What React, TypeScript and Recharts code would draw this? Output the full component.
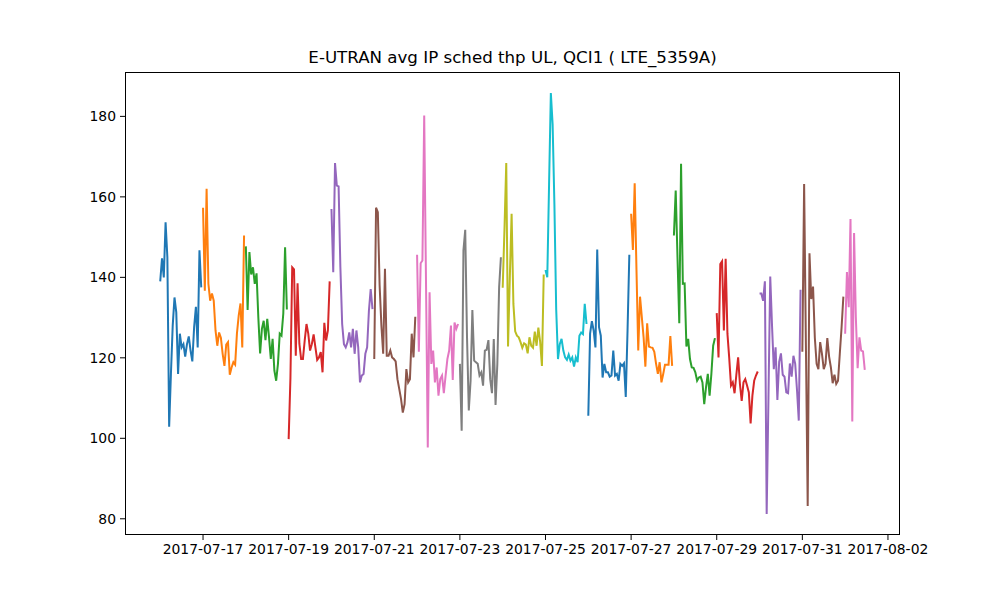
import React from "react";
import { LineChart, Line, XAxis, YAxis } from "recharts";

// hourly values, one array per calendar day (first hour = 00:00)
const d0716 = [139, 144.7, 140, 153.7, 145, 102.9, 116, 128, 135, 131.3, 116, 126, 122.6, 123.4, 120.3, 123.4, 125.3, 121.8, 119.1, 127.6, 132.7, 122.6, 146.7, 137.5];
const d0717 = [157.3, 136.7, 162, 138.4, 134.2, 136, 134.2, 126.8, 123, 126.3, 125, 121, 118, 123.3, 123.9, 115.8, 117.6, 118.9, 118.3, 126, 130.5, 133.5, 122.6, 150.4];
const d0718 = [147.7, 131.9, 146.3, 140.7, 142.5, 138.4, 141, 130, 121.1, 127.2, 129.2, 124.4, 129.7, 125.1, 119.7, 124.7, 116.8, 114.3, 118.5, 126, 125.5, 131, 147.5, 132];
const d0719 = [99.8, 115, 142.5, 142, 120.5, 138.5, 123.5, 119.7, 119.7, 124.3, 128.4, 126, 121.8, 123.4, 125.8, 122.6, 119.5, 120.1, 121.4, 116.4, 128.7, 124.3, 126.8, 139];
const d0720 = [157, 141.3, 168.4, 162.8, 162.6, 142.5, 128.4, 123.4, 122.6, 123.9, 126.3, 122.6, 127.2, 121, 126.8, 122.6, 113.9, 115.6, 116, 121, 122.6, 131.7, 137.1, 132.1];
const d0721 = [119.7, 157.3, 156.2, 138, 128, 121, 142.1, 120.5, 120.5, 121.8, 120.1, 119.7, 119.1, 114.7, 112.3, 109.8, 106.4, 108.5, 117.2, 113.9, 114.7, 126, 120.1, 130.2];
const d0722 = [145.6, 121.5, 143.5, 144.2, 180.2, 139, 97.7, 136.3, 118.5, 121.8, 113.9, 117.6, 110.6, 114.7, 115.6, 111.2, 115.6, 119.7, 121.8, 128, 114.5, 128.8, 127.2, 128.4];
const d0723 = [118.5, 101.9, 146.7, 151.8, 125.1, 106.9, 114.3, 131.9, 119.3, 118.9, 118.5, 115.6, 116.4, 113.1, 121.8, 122, 124.4, 114.7, 111.2, 124.7, 108.3, 118.5, 137.5, 145];
const d0724 = [137.4, 152, 168.4, 122.8, 140, 155.8, 133.4, 126.6, 125.5, 125.1, 123.9, 122.5, 123.6, 123.3, 121.1, 125.1, 123, 122.5, 126.5, 123, 127.5, 124, 118, 140.7];
const d0725 = [141.8, 140, 163, 185.8, 178, 158, 132, 119.7, 123.4, 124.7, 121.8, 120.1, 119.5, 120.8, 119.3, 120.1, 117.8, 120.1, 118.9, 125.5, 126.3, 125.9, 133.4, 128.4];
const d0726 = [105.6, 126, 129.1, 126.8, 122.6, 146.9, 127.6, 125.5, 115.1, 118.5, 116.4, 116.4, 115.3, 115.6, 121.8, 115.6, 116, 114.3, 118.5, 118, 118.6, 110.3, 126.8, 145.6];
const d0727 = [155.8, 146.8, 163.4, 142, 121.8, 135.2, 130.1, 125.1, 117.8, 128.6, 122.8, 122.6, 122.5, 121.5, 118.5, 116, 118.9, 113.9, 116, 118.3, 118.3, 118.3, 125.4, 118];
const d0728 = [150.4, 161.6, 145, 128.6, 168.2, 138.4, 138.5, 122.8, 124.7, 119.7, 117.6, 117.5, 116.4, 114.3, 115.1, 115.3, 113.9, 108.5, 112.7, 116, 110.6, 116, 123, 124.9];
const d0729 = [131.1, 120.1, 143.3, 144, 126.8, 144.6, 126, 120, 113.1, 113.9, 111.2, 115.8, 120.1, 113.5, 109.3, 113.9, 114.7, 113.1, 111.4, 103.7, 110.6, 114.3, 115.6, 116.6];
const d0730 = [136, 136, 134.2, 139, 81.2, 110, 140.2, 128, 117.2, 122.6, 109.5, 119, 121.1, 115.8, 115.3, 111.4, 111.2, 118.6, 115.3, 120.5, 118.5, 112, 104.4, 136.9];
const d0731 = [121.5, 163.2, 123, 83.2, 146, 134.6, 137.7, 125, 118.5, 117.2, 123.9, 121, 117.2, 118.5, 124.9, 120.3, 117.6, 113.7, 115.8, 113.5, 114.3, 121, 127.6, 135.2];
const d0801 = [126, 141.3, 132.6, 154.5, 104.2, 151, 130, 117.4, 125.1, 121.8, 121.6, 117];

const dayValues = [d0716, d0717, d0718, d0719, d0720, d0721, d0722, d0723, d0724, d0725, d0726, d0727, d0728, d0729, d0730, d0731, d0801];

// x is days since 2017-07-16 00:00
const xTicks = [1, 3, 5, 7, 9, 11, 13, 15, 17];
const xTickLabels = ["2017-07-17", "2017-07-19", "2017-07-21", "2017-07-23", "2017-07-25", "2017-07-27", "2017-07-29", "2017-07-31", "2017-08-02"];
const yTicks = [80, 100, 120, 140, 160, 180];

const colors = ["#1f77b4", "#ff7f0e", "#2ca02c", "#d62728", "#9467bd", "#8c564b", "#e377c2", "#7f7f7f", "#bcbd22", "#17becf"];

const segments = dayValues.map((vals, day) =>
  vals.map((y, h) => ({ x: day + h / 24, y }))
);

const lastX = 16 + (d0801.length - 1) / 24;
const xPad = lastX * 0.05;
const xDomain = [-xPad, lastX + xPad];
const yDomain = [75.97, 191.03];

const font = "DejaVu Sans, sans-serif";
const tickStyle = { fontFamily: font, fontSize: 13.9, fill: "#000" };

const App = () => {
  return (
    <div style={{ position: "absolute", left: 0, top: 0, width: 1000, height: 600, background: "#fff" }}>
      <div
        style={{
          position: "absolute",
          left: 125,
          width: 775,
          top: 50,
          textAlign: "center",
          fontFamily: font,
          fontSize: 16.67,
          lineHeight: 1,
          color: "#000",
        }}
      >
        E-UTRAN avg IP sched thp UL, QCI1 ( LTE_5359A)
      </div>
      <LineChart width={1000} height={600} margin={{ top: 72, right: 100, bottom: 35, left: 75 }}>
        <XAxis
          type="number"
          dataKey="x"
          domain={xDomain}
          allowDataOverflow
          ticks={xTicks}
          tickFormatter={(v) => xTickLabels[xTicks.indexOf(v)] ?? ""}
          height={30}
          tickSize={5}
          tickMargin={4}
          axisLine={false}
          tickLine={{ stroke: "#000" }}
          tick={tickStyle}
          interval={0}
        />
        <YAxis
          type="number"
          domain={yDomain}
          allowDataOverflow
          ticks={yTicks}
          width={50}
          tickSize={5}
          tickMargin={4}
          axisLine={false}
          tickLine={{ stroke: "#000" }}
          tick={tickStyle}
          interval={0}
        />
        {segments.map((seg, i) => (
          <Line
            key={i}
            data={seg}
            dataKey="y"
            type="linear"
            stroke={colors[i % 10]}
            strokeWidth={2}
            dot={false}
            activeDot={false}
            isAnimationActive={false}
          />
        ))}
      </LineChart>
      <div
        style={{
          position: "absolute",
          left: 125,
          top: 72,
          width: 775,
          height: 463,
          boxSizing: "border-box",
          border: "1px solid #000",
          pointerEvents: "none",
        }}
      />
    </div>
  );
};

export default App;
